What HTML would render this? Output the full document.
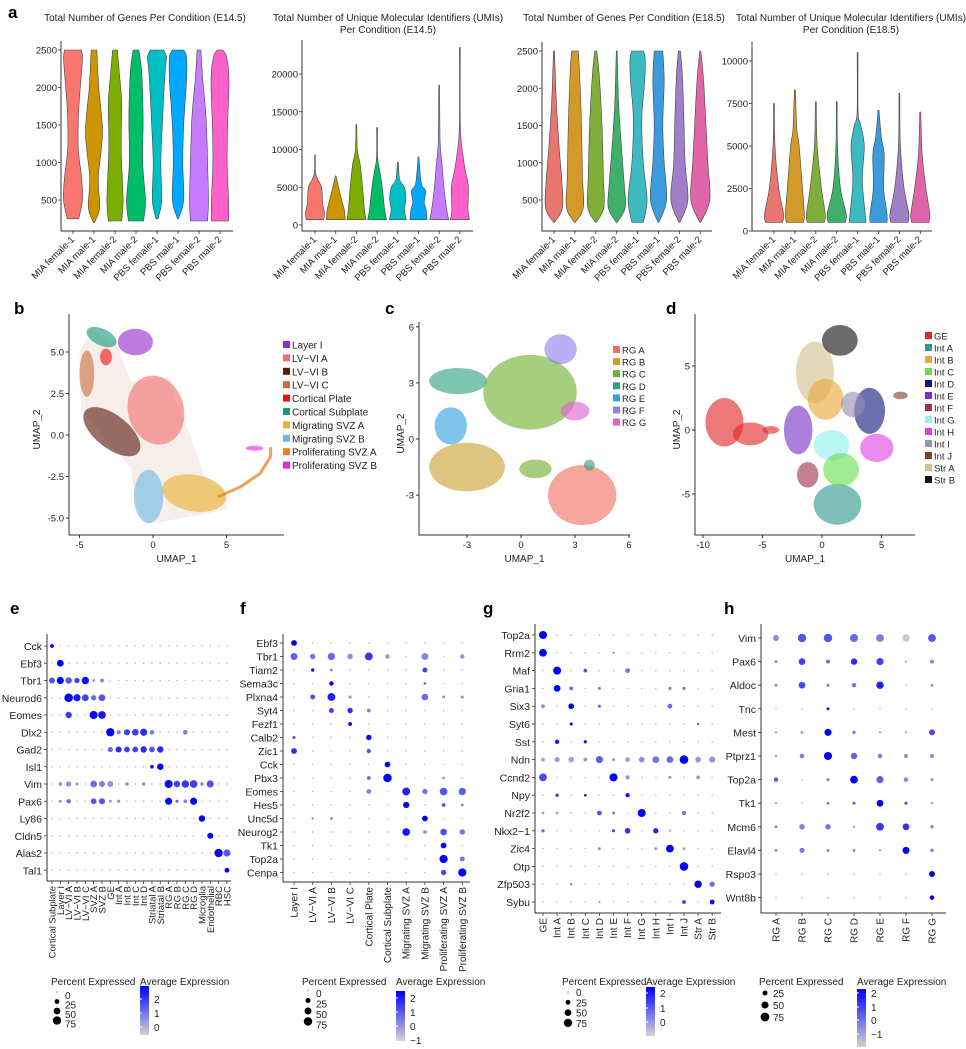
<!DOCTYPE html>
<html><head><meta charset="utf-8"><style>
html,body{margin:0;padding:0;background:#fff;}
svg{display:block;font-family:"Liberation Sans",Arial,sans-serif;}
</style></head><body>
<svg id="fig" width="966" height="1049" viewBox="0 0 966 1049" xmlns="http://www.w3.org/2000/svg"></svg>
<script>
// ---------- DATA ----------
const violinCats=["MIA female-1","MIA male-1","MIA female-2","MIA male-2","PBS female-1","PBS male-1","PBS female-2","PBS male-2"];
const violinColors=["#F8766D","#CD9600","#7CAE00","#00BE67","#00BFC4","#00A9FF","#C77CFF","#FF61CC"];
const violinColors2=["#E8766E","#D39A2A","#7FAF3A","#3DB06A","#3DBAC0","#3C9BDD","#A07EC8","#E065A8"];
const genesTicks=[500,1000,1500,2000,2500];
const umiTicksE14=[0,5000,10000,15000,20000];
const umiTicksE18=[0,2500,5000,7500,10000];
const genesE14=[
 [[250,.6],[500,1],[800,.9],[1200,.55],[1700,.6],[2200,.9],[2400,1],[2500,.9]],
 [[200,0],[400,.6],[800,.45],[1400,.9],[2000,.5],[2500,.3]],
 [[220,.7],[500,.85],[1200,.65],[1800,.7],[2200,.45],[2500,.25]],
 [[220,.8],[500,1],[1000,.7],[1600,.75],[2200,.6],[2500,.3]],
 [[250,.1],[500,.5],[1000,.4],[1600,.6],[2200,.85],[2400,1],[2500,.7]],
 [[250,0],[500,.6],[1000,.5],[1500,.6],[2100,.9],[2400,.9],[2500,.6]],
 [[220,.9],[500,1],[1000,.9],[1600,.75],[2100,.4],[2500,.2]],
 [[220,.9],[500,.9],[1000,.75],[1500,.8],[2100,.95],[2400,.7],[2500,.3]]];
const umiE14=[
 [[700,.9],[1500,1],[3000,.8],[5000,.7],[6000,.3],[7000,.05],[9300,0]],
 [[700,1],[2000,.9],[3500,.6],[5000,.3],[6500,0]],
 [[700,1],[2000,.85],[5000,.65],[8000,.4],[10000,.1],[13300,0]],
 [[700,1],[2000,.8],[5000,.55],[7000,.3],[9000,.05],[12900,0]],
 [[700,.9],[2000,.7],[3500,.85],[5000,.7],[6000,.2],[8300,0]],
 [[700,.9],[2000,.8],[3000,.6],[4500,.75],[5500,.3],[9000,0]],
 [[700,1],[2000,.8],[5000,.5],[8000,.3],[11000,.1],[18500,0]],
 [[700,1],[2000,.85],[5000,.9],[7000,.6],[9000,.35],[13000,.05],[23500,0]]];
const genesE18=[
 [[200,0],[400,.9],[800,.8],[1200,.55],[1800,.25],[2500,0]],
 [[200,0],[400,.9],[800,.8],[1500,.7],[2200,.5],[2500,.35]],
 [[200,0],[400,.85],[800,.8],[1500,.65],[2200,.35],[2500,.1]],
 [[200,0],[400,.9],[700,.8],[1200,.5],[1800,.2],[2500,0]],
 [[200,.6],[500,1],[1000,.6],[1600,.45],[2100,.75],[2400,.8],[2500,.6]],
 [[200,0],[500,.85],[1000,.6],[1500,.45],[2100,.6],[2500,.45]],
 [[200,0],[500,.9],[1000,.6],[1700,.45],[2200,.3],[2500,.1]],
 [[200,0],[500,1],[1000,.8],[1500,.6],[2100,.35],[2500,.05]]];
const umiE18=[
 [[500,.9],[1000,1],[2500,.5],[5000,.1],[7500,0]],
 [[500,.9],[1000,1],[2500,.8],[5000,.45],[6000,.2],[8300,0]],
 [[500,.9],[1000,1],[2500,.6],[5000,.15],[7600,0]],
 [[500,.9],[1000,1],[2500,.4],[5000,.08],[7600,0]],
 [[500,.9],[1000,.8],[3000,.5],[5000,.7],[6200,.35],[7000,.05],[10500,0]],
 [[500,.9],[1000,.9],[2500,.55],[4500,.6],[5500,.3],[7100,0]],
 [[500,.9],[1000,1],[2500,.5],[5000,.1],[8100,0]],
 [[500,.9],[1000,1],[2500,.6],[4500,.2],[7000,0]]];

// UMAP b
const bNames=["Layer I","LV\u2212VI A","LV\u2212VI B","LV\u2212VI C","Cortical Plate","Cortical Subplate","Migrating SVZ A","Migrating SVZ B","Proliferating SVZ A","Proliferating SVZ B"];
const bColors=["#9A2AD0","#F07070","#5A1A10","#C87040","#F01010","#1A9A7A","#E8B030","#70B8E0","#F08020","#F020F0"];
const bHull=[[-4.2,6.3],[-2.5,5.5],[-1.5,3.2],[1,3.5],[2.5,0],[3.5,-2.5],[5,-3.5],[5,-4.5],[2,-5],[-0.5,-5.4],[-1.2,-4],[-1.5,-2],[-4.9,1.5],[-5,5]];
const bBlobs=[[0,-1.2,5.6,1.2,.8,0],[1,0.2,1.5,1.9,2.1,-15],[2,-2.8,0.2,2.3,1.0,38],[3,-4.5,3.7,.5,1.4,0],[4,-3.2,4.7,.4,.5,0],[5,-3.5,5.9,1.1,.5,25],[6,2.8,-3.5,2.2,1.1,10],[7,-0.3,-3.7,1.0,1.6,0],[9,6.9,-0.8,.6,.15,0]];
const bArc=[[4.5,-3.7],[6,-3.1],[7.3,-2.3],[8,-1.3],[8,-0.8]];
const bXTicks=[-5,0,5], bYTicks=[-5,-2.5,0,2.5,5];
// UMAP c
const cNames=["RG A","RG B","RG C","RG D","RG E","RG F","RG G"];
const cColors=["#F07060","#C8A030","#70B030","#30A080","#30A0E0","#9080F0","#E060D0"];
const cBlobs=[[2,0.5,2.5,2.6,2.0,0],[0,3.4,-3.0,1.9,1.6,0],[1,-3,-1.5,2.1,1.3,0],[3,-3.5,3.1,1.6,.7,0],[4,-3.9,0.7,.9,1.0,0],[5,2.2,4.8,.9,.8,0],[6,3.0,1.5,.8,.5,0],[2,0.8,-1.6,.9,.5,0],[3,3.8,-1.4,.3,.3,0]];
const cXTicks=[-3,0,3,6], cYTicks=[-3,0,3,6];
// UMAP d
const dNames=["GE","Int A","Int B","Int C","Int D","Int E","Int F","Int G","Int H","Int I","Int J","Str A","Str B"];
const dColors=["#E02828","#2E9A8A","#E8A838","#66E050","#101880","#7A30C8","#A03050","#90F0F0","#E040E0","#9A90B0","#7A4030","#D0C090","#101010"];
const dBlobs=[[11,-0.6,4.5,1.6,2.4,0],[0,-8.2,0.6,1.6,1.9,0],[0,-6,-0.3,1.5,.9,0],[0,-4.3,0,.7,.3,0],[1,1.3,-5.8,2.0,1.6,0],[2,0.3,2.4,1.5,1.6,0],[7,0.8,-1.2,1.5,1.2,0],[3,1.6,-3.1,1.5,1.3,0],[4,4,1.5,1.3,1.8,0],[5,-2,0,1.2,1.9,0],[6,-1.2,-3.5,.9,1.0,0],[8,4.6,-1.4,1.4,1.1,0],[9,2.6,2,1,1,0],[10,6.6,2.7,.6,.3,0],[12,1.5,7,1.5,1.2,0]];
const dXTicks=[-10,-5,0,5], dYTicks=[-5,0,5];

// Dot plot e
const eRows=["Cck","Ebf3","Tbr1","Neurod6","Eomes","Dlx2","Gad2","Isl1","Vim","Pax6","Ly86","Cldn5","Alas2","Tal1"];
const eCols=["Cortical Subplate","Layer I","LV\u2212VI A","LV\u2212VI B","LV\u2212VI C","SVZ A","SVZ B","GE","Int A","Int B","Int C","Int D","Striatal A","Striatal B","RG A","RG B","RG C","RG D","Microglia","Endothelial","RBC","HSC"];
const eDots=[[0,0,15,1],[1,1,50,1],[2,0,40,.6],[2,1,55,1],[2,2,45,.6],[2,3,30,.7],[2,4,60,.95],[2,5,8,.3],[2,6,15,.4],
[3,2,80,1],[3,3,55,.9],[3,4,50,.7],[3,5,30,.5],[3,6,50,.6],[4,2,45,.7],[4,5,70,1],[4,6,65,.9],
[5,7,75,1],[5,8,20,.4],[5,9,40,.7],[5,10,50,.7],[5,11,55,.8],[5,12,25,.4],[5,16,25,.4],
[6,7,30,.5],[6,8,40,.8],[6,9,35,.7],[6,10,35,.7],[6,11,45,.8],[6,12,35,.6],[6,13,45,.8],[7,12,15,.9],[7,13,45,1],
[8,1,15,.3],[8,2,30,.3],[8,3,10,.3],[8,5,50,.5],[8,6,40,.4],[8,7,40,.3],[8,9,15,.3],[8,11,15,.3],[8,14,70,.95],[8,15,45,.7],[8,16,60,.75],[8,17,65,.7],[8,18,15,.3],[8,19,55,.6],
[9,1,10,.3],[9,2,20,.5],[9,5,35,.6],[9,6,40,.6],[9,7,10,.3],[9,8,12,.3],[9,14,55,.95],[9,15,10,.5],[9,16,15,.4],[9,17,55,1],
[10,18,45,1],[11,19,40,1],[12,20,75,1],[12,21,55,.6],[13,21,25,1]];
// Dot plot f
const fRows=["Ebf3","Tbr1","Tiam2","Sema3c","Plxna4","Syt4","Fezf1","Calb2","Zic1","Cck","Pbx3","Eomes","Hes5","Unc5d","Neurog2","Tk1","Top2a","Cenpa"];
const fCols=["Layer I","LV\u2212VI A","LV\u2212VI B","LV\u2212VI C","Cortical Plate","Cortical Subplate","Migrating SVZ A","Migrating SVZ B","Proliferating SVZ A","Proliferating SVZ B"];
const fDots=[[0,0,35,1],[1,0,50,.55],[1,1,30,.45],[1,2,55,.5],[1,3,30,.35],[1,4,65,.75],[1,5,20,.3],[1,7,50,.35],[1,9,20,.3],
[2,1,12,.9],[2,2,8,.4],[2,7,25,.7],[3,2,20,1],[3,7,8,.5],[4,1,25,.6],[4,2,65,.85],[4,3,10,.3],[4,7,45,.5],[4,8,10,.3],[4,9,10,.3],
[5,2,25,.7],[5,3,30,.8],[5,4,15,.4],[6,3,15,1],[7,0,10,.6],[7,4,30,1],[8,0,35,.8],[8,4,20,.6],[9,5,35,1],[10,5,75,1],[10,4,15,.5],[10,8,8,.3],
[11,4,25,.35],[11,6,65,.85],[11,7,30,.45],[11,8,60,.6],[11,9,55,.55],[12,6,40,1],[12,8,15,.6],[12,9,8,.4],[13,7,35,1],[13,1,5,.4],[13,2,8,.4],
[14,6,60,.9],[14,7,15,.3],[14,8,45,.65],[14,9,30,.45],[15,8,35,1],[16,8,70,1],[16,9,25,.45],[17,8,30,.65],[17,9,70,1]];
// Dot plot g
const gRows=["Top2a","Rrm2","Maf","Gria1","Six3","Syt6","Sst","Ndn","Ccnd2","Npy","Nr2f2","Nkx2\u22121","Zic4","Otp","Zfp503","Sybu"];
const gCols=["GE","Int A","Int B","Int C","Int D","Int E","Int F","Int G","Int H","Int I","Int J","Str A","Str B"];
const gDots=[[0,0,70,1],[1,0,65,1],[1,5,5,.4],[2,1,70,1],[2,3,15,.6],[2,6,25,.45],[3,1,50,1],[3,2,15,.5],[3,4,10,.4],[3,9,12,.4],[3,10,12,.4],
[4,0,15,.35],[4,2,35,1],[4,4,10,.5],[4,9,25,.5],[5,2,10,1],[5,11,5,.7],[6,1,20,.9],[6,3,12,.9],
[7,0,15,.25],[7,1,30,.25],[7,2,35,.25],[7,3,15,.3],[7,4,55,.55],[7,5,10,.3],[7,6,25,.25],[7,7,35,.35],[7,8,50,.45],[7,9,50,.5],[7,10,80,1],[7,11,35,.3],[7,12,40,.3],
[8,0,65,.65],[8,5,70,1],[8,6,20,.3],[8,9,10,.3],[8,11,15,.3],[9,1,12,.7],[9,3,8,.9],[9,6,20,.9],
[10,0,8,.3],[10,1,8,.3],[10,4,25,.6],[10,5,10,.4],[10,7,70,1],[10,10,20,.45],[11,0,12,.5],[11,5,10,.7],[11,6,35,.75],[11,8,30,.85],[11,9,5,.3],
[12,4,8,.4],[12,8,8,.4],[12,9,65,1],[12,10,8,.3],[13,10,80,1],[14,2,8,.3],[14,11,60,1],[14,12,30,.5],[15,10,15,.7],[15,12,25,1],[15,4,5,.3]];
// Dot plot h
const hRows=["Vim","Pax6","Aldoc","Tnc","Mest","Ptprz1","Top2a","Tk1","Mcm6","Elavl4","Rspo3","Wnt8b"];
const hCols=["RG A","RG B","RG C","RG D","RG E","RG F","RG G"];
const hDots=[[0,0,35,.35],[0,1,70,.6],[0,2,70,.6],[0,3,65,.5],[0,4,60,.4],[0,5,55,.05],[0,6,60,.6],
[1,0,8,.4],[1,1,45,.7],[1,2,15,.45],[1,3,40,.8],[1,4,50,.7],[1,5,5,.2],[1,6,15,.35],
[2,0,8,.4],[2,1,45,.65],[2,2,10,.4],[2,3,20,.45],[2,4,55,.85],[2,6,8,.35],[3,2,8,1],
[4,0,5,.3],[4,1,8,.3],[4,2,50,1],[4,3,12,.4],[4,4,5,.3],[4,5,5,.2],[4,6,35,.65],
[5,0,5,.3],[5,1,20,.4],[5,2,65,1],[5,3,40,.55],[5,4,20,.4],[5,5,15,.35],[5,6,15,.35],
[6,0,20,.55],[6,2,10,.35],[6,3,60,1],[6,4,50,.55],[6,5,20,.35],[6,6,8,.35],
[7,0,5,.3],[7,2,8,.4],[7,3,10,.5],[7,4,45,1],[7,5,10,.6],[7,6,5,.3],
[8,0,8,.4],[8,1,30,.4],[8,2,30,.45],[8,3,5,.3],[8,4,60,.75],[8,5,45,.75],[8,6,12,.35],
[9,0,8,.4],[9,1,25,.45],[9,2,8,.4],[9,3,8,.4],[9,4,5,.3],[9,5,50,1],[9,6,12,.4],[10,6,35,1],[11,6,20,1]];

// ---------- HELPERS ----------
const NS='http://www.w3.org/2000/svg';
const svg=document.getElementById('fig');
function mk(tag,attrs,parent){const e=document.createElementNS(NS,tag);for(const k in attrs)e.setAttribute(k,attrs[k]);(parent||svg).appendChild(e);return e;}
function txt(x,y,s,attrs,parent){const t=mk('text',Object.assign({x:x,y:y},attrs||{}),parent);t.textContent=s;return t;}
function group(name){const g=mk('g',{});return g;}
function smooth(pts){ // catmull-rom -> bezier
  let d='M'+pts[0][0].toFixed(1)+','+pts[0][1].toFixed(1);
  for(let i=0;i<pts.length-1;i++){
    const p0=pts[Math.max(0,i-1)],p1=pts[i],p2=pts[i+1],p3=pts[Math.min(pts.length-1,i+2)];
    const c1=[p1[0]+(p2[0]-p0[0])/6,p1[1]+(p2[1]-p0[1])/6];
    const c2=[p2[0]-(p3[0]-p1[0])/6,p2[1]-(p3[1]-p1[1])/6];
    d+=` C${c1[0].toFixed(1)},${c1[1].toFixed(1)} ${c2[0].toFixed(1)},${c2[1].toFixed(1)} ${p2[0].toFixed(1)},${p2[1].toFixed(1)}`;
  }
  return d;
}

// panel letters
[["a",8,18],["b",14,314],["c",385,314],["d",666,314],["e",10,614],["f",240,614],["g",483,614],["h",724,614]].forEach(p=>{
  const t=txt(p[1],p[2],p[0],{'font-size':17,'font-weight':'bold',fill:'#000'});
  
  
});

// ---------- VIOLINS ----------
function violinPanel(name,cfg,profiles,colors,ticks){
  const g=group(name);
  cfg.title.forEach((l,i)=>{const t=txt(cfg.titleX,21+i*12,l,{'font-size':10,'text-anchor':'middle',fill:'#222'},g);
    
    });
  const y=v=>cfg.y0-(v-cfg.v0)*cfg.k;
  profiles.forEach((prof,i)=>{
    const cx=cfg.x0+i*cfg.step;
    const L=prof.map(p=>[cx-Math.max(p[1]*cfg.hw,0.45),y(p[0])]);
    const R=prof.map(p=>[cx+Math.max(p[1]*cfg.hw,0.45),y(p[0])]).reverse();
    const top=R[0], bot=L[0];
    const d=smooth(L)+' L'+top[0].toFixed(1)+','+top[1].toFixed(1)+' '+smooth(R).slice(1).replace(/^[^C]*/,'')+' Z';
    const pth=mk('path',{d:d,fill:colors[i],stroke:'#444','stroke-width':0.6},g);
    
    
    mk('line',{x1:cx,x2:cx,y1:cfg.bottom,y2:cfg.bottom+3,stroke:'#333','stroke-width':0.8},g);
    const t=txt(cx+2,cfg.bottom+9,violinCats[i],{'font-size':9.5,'text-anchor':'end',fill:'#222',transform:`rotate(-45 ${cx+2} ${cfg.bottom+9})`},g);
    
    
  });
  ticks.forEach(v=>{const yy=y(v);
    mk('line',{x1:cfg.ax-3,x2:cfg.ax,y1:yy,y2:yy,stroke:'#333','stroke-width':0.8},g);
    const t=txt(cfg.ax-4,yy+3.5,String(v),{'font-size':9.5,'text-anchor':'end',fill:'#222'},g);
    
    });
  const ax=mk('path',{d:`M${cfg.ax},${cfg.top} V${cfg.bottom} H${cfg.right}`,fill:'none',stroke:'#333','stroke-width':1},g);
  
  
}
violinPanel('violin-genes-e14',{title:["Total Number of Genes Per Condition (E14.5)"],titleX:145,ax:61,top:41,bottom:231,right:233,x0:73,step:21,hw:9.5,y0:200,v0:500,k:0.075},genesE14,violinColors,genesTicks);
violinPanel('violin-umi-e14',{title:["Total Number of Unique Molecular Identifiers (UMIs)","Per Condition (E14.5)"],titleX:388,ax:302,top:40,bottom:231,right:473,x0:315,step:20.7,hw:9.5,y0:225,v0:0,k:151/20000},umiE14,violinColors,umiTicksE14);
violinPanel('violin-genes-e18',{title:["Total Number of Genes Per Condition (E18.5)"],titleX:624,ax:542,top:42,bottom:231,right:712,x0:554,step:20.9,hw:9.5,y0:200,v0:500,k:149/2000},genesE18,violinColors2,genesTicks);
violinPanel('violin-umi-e18',{title:["Total Number of Unique Molecular Identifiers (UMIs)","Per Condition (E18.5)"],titleX:851,ax:752,top:42,bottom:231,right:932,x0:774,step:20.9,hw:9.5,y0:231,v0:0,k:170/10000},umiE18,violinColors2,umiTicksE18);

// ---------- UMAPS ----------
function umap(name,cfg,blobs,names,colors,xt,yt,hull,arc){
  const g=group(name);
  const X=v=>cfg.x0+v*cfg.kx, Y=v=>cfg.y0-v*cfg.ky;
  if(hull){const p=mk('polygon',{points:hull.map(q=>X(q[0])+','+Y(q[1])).join(' '),fill:'#f6eeea'},g);
    
    }
  blobs.forEach(b=>{const cx=X(b[1]),cy=Y(b[2]);
    const e=mk('ellipse',{cx:cx,cy:cy,rx:b[3]*cfg.kx,ry:b[4]*cfg.ky,fill:colors[b[0]],'fill-opacity':0.62,transform:`rotate(${b[5]} ${cx} ${cy})`},g);
    
    });
  if(arc){const p=mk('polyline',{points:arc.map(q=>X(q[0])+','+Y(q[1])).join(' '),fill:'none',stroke:colors[8],'stroke-width':3,'stroke-opacity':0.75,'stroke-linecap':'round'},g);
    
    }
  xt.forEach(v=>{const xx=X(v);mk('line',{x1:xx,x2:xx,y1:cfg.bottom,y2:cfg.bottom+3,stroke:'#333'},g);
    const t=txt(xx,cfg.bottom+13,String(v),{'font-size':9.5,'text-anchor':'middle',fill:'#222'},g);
    
    });
  yt.forEach(v=>{const yy=Y(v);mk('line',{x1:cfg.ax-3,x2:cfg.ax,y1:yy,y2:yy,stroke:'#333'},g);
    const t=txt(cfg.ax-5,yy+3.5,cfg.fmt?v.toFixed(1):String(v),{'font-size':9.5,'text-anchor':'end',fill:'#222'},g);
    
    });
  const ax=mk('path',{d:`M${cfg.ax},${cfg.top} V${cfg.bottom} H${cfg.right}`,fill:'none',stroke:'#333','stroke-width':1},g);
  
  
  const xl=txt((cfg.ax+cfg.right)/2,cfg.bottom+27,'UMAP_1',{'font-size':10,'text-anchor':'middle',fill:'#222'},g);
  
  
  const yl=txt(cfg.ylx,(cfg.top+cfg.bottom)/2+5,'UMAP_2',{'font-size':10,'text-anchor':'middle',fill:'#222',transform:`rotate(-90 ${cfg.ylx} ${(cfg.top+cfg.bottom)/2+5})`},g);
  
  
  names.forEach((n,i)=>{const ly=cfg.ly+i*cfg.lstep;
    const r=mk('rect',{x:cfg.lx,y:ly-4,width:7,height:7,fill:colors[i]},g);
    
    
    const t=txt(cfg.lx+9,ly+3.5,n,{'font-size':cfg.lfs,fill:'#222'},g);
    
    });
}
umap('umap-b',{x0:153,kx:14.7,y0:435,ky:16.6,ax:69,top:314,bottom:535,right:284,ylx:40,lx:283,ly:345,lstep:13.4,lfs:10,fmt:true},bBlobs,bNames,bColors,bXTicks,bYTicks,bHull,bArc);
umap('umap-c',{x0:521,kx:18,y0:439,ky:18.7,ax:419,top:322,bottom:535,right:630,ylx:404,lx:613,ly:350,lstep:12.1,lfs:9.5},cBlobs,cNames,cColors,cXTicks,cYTicks);
umap('umap-d',{x0:822,kx:11.9,y0:430,ky:12.8,ax:695,top:314,bottom:535,right:915,ylx:680,lx:925,ly:336,lstep:12,lfs:9.5},dBlobs,dNames,dColors,dXTicks,dYTicks);

// ---------- DOT PLOTS ----------
function col(t){t=Math.max(0,Math.min(1,t));const r=Math.round(211*(1-t)),gg=Math.round(211*(1-t)),b=Math.round(211+(255-211)*t);return `rgb(${r},${gg},${b})`;}
function dotPlot(name,cfg,rows,cols,dots){
  const g=group(name);
  const M=rows.map(()=>cols.map(()=>[cfg.defPct,0.1]));
  dots.forEach(d=>{M[d[0]][d[1]]=[d[2],d[3]];});
  const X=c=>cfg.cx0+c*cfg.cs, Y=r=>cfg.ry0+r*cfg.rs;
  rows.forEach((rn,r)=>{
    const t=txt(cfg.ax-5,Y(r)+4,rn,{'font-size':cfg.rfs,'text-anchor':'end',fill:'#222'},g);
    
    
    mk('line',{x1:cfg.ax-3,x2:cfg.ax,y1:Y(r),y2:Y(r),stroke:'#333','stroke-width':0.8},g);
    cols.forEach((cn,c)=>{const v=M[r][c];
      const rad=Math.max(0.6,cfg.rmax*Math.sqrt(v[0]/80));
      const ci=mk('circle',{cx:X(c),cy:Y(r),r:rad.toFixed(2),fill:col(v[1])},g);
      
      });
  });
  cols.forEach((cn,c)=>{const xx=X(c);
    mk('line',{x1:xx,x2:xx,y1:cfg.bottom,y2:cfg.bottom+3,stroke:'#333','stroke-width':0.8},g);
    const t=txt(xx+3.5,cfg.bottom+5,cn,{'font-size':cfg.cfs,'text-anchor':'end',fill:'#222',transform:`rotate(-90 ${xx+3.5} ${cfg.bottom+5})`},g);
    
    });
  const ax=mk('path',{d:`M${cfg.ax},${cfg.top} V${cfg.bottom} H${cfg.right}`,fill:'none',stroke:'#333','stroke-width':1},g);
  
  
  const L=cfg.leg;
  const t1=txt(L.px,985,'Percent Expressed',{'font-size':10,fill:'#222'},g);
  
  
  L.sizes.forEach((s,i)=>{const yy=L.sy0+i*L.sst;
    mk('circle',{cx:L.px+6,cy:yy,r:Math.max(0.5,cfg.rmax*Math.sqrt(s/80)),fill:'#000'},g);
    const t=txt(L.px+14,yy+L.loff,String(s),{'font-size':10,fill:'#222'},g);
    
    });
  const t2=txt(L.cx,985,'Average Expression',{'font-size':10,fill:'#222'},g);
  
  
  const cb=mk('rect',{x:L.cx,y:L.cy0,width:9,height:L.cy1-L.cy0,fill:'url(#cbg)'},g);
  
  
  L.cl.forEach(p=>{mk('line',{x1:L.cx,x2:L.cx+2,y1:p[1],y2:p[1],stroke:'#fff'},g);
    const t=txt(L.cx+14,p[1]+4,p[0],{'font-size':10,fill:'#222'},g);
    
    });
}
const defs=mk('defs',{});
const lg=mk('linearGradient',{id:'cbg',x1:0,y1:0,x2:0,y2:1},defs);
mk('stop',{offset:0,'stop-color':'#0000ff'},lg);mk('stop',{offset:1,'stop-color':'#d3d3d3'},lg);

dotPlot('dotplot-e',{ax:47,top:634,bottom:881,right:231,cx0:52,cs:8.33,ry0:646,rs:17.25,rmax:4.3,rfs:10.5,cfs:9.5,defPct:3,
  leg:{px:51,sizes:[0,25,50,75],sy0:992,sst:9.5,loff:7,cx:140,cy0:986,cy1:1035,cl:[["2",999],["1",1013],["0",1027]]}},eRows,eCols,eDots);
dotPlot('dotplot-f',{ax:283,top:634,bottom:882,right:470,cx0:294,cs:18.7,ry0:643,rs:13.5,rmax:4.4,rfs:10.5,cfs:10,defPct:3,
  leg:{px:302,sizes:[0,25,50,75],sy0:990,sst:10.5,loff:7,cx:396,cy0:991,cy1:1041,cl:[["2",998],["1",1012],["0",1026],["\u22121",1040]]}},fRows,fCols,fDots);
dotPlot('dotplot-g',{ax:535,top:624,bottom:913,right:721,cx0:543,cs:14.1,ry0:635,rs:17.8,rmax:4.3,rfs:10.5,cfs:10,defPct:3,
  leg:{px:562,sizes:[0,25,50,75],sy0:992,sst:10.3,loff:4,cx:646,cy0:987,cy1:1036,cl:[["2",993],["1",1008],["0",1022]]}},gRows,gCols,gDots);
dotPlot('dotplot-h',{ax:761,top:624,bottom:913,right:946,cx0:776,cs:26,ry0:638,rs:23.6,rmax:4.5,rfs:10.5,cfs:10,defPct:3,
  leg:{px:759,sizes:[25,50,75],sy0:993,sst:12,loff:4,cx:857,cy0:989,cy1:1047,cl:[["2",993],["1",1007],["0",1020],["\u22121",1034]]}},hRows,hCols,hDots);
</script>
</body></html>
